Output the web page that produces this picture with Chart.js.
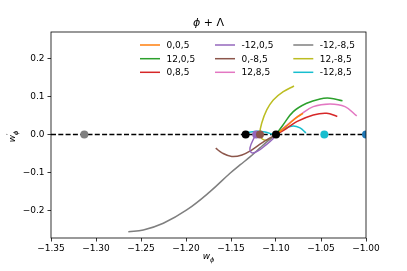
<!DOCTYPE html>
<html><head><meta charset="utf-8">
<script src="https://cdn.jsdelivr.net/npm/chart.js@4/dist/chart.umd.min.js"></script>
<style>html,body{margin:0;padding:0;background:#fff}#wrap{width:407px;height:271px}</style>
</head><body><div id="wrap"><canvas id="c" width="407" height="271"></canvas></div>
<script>
// ---- data ----
const labels = ["0,0,5","12,0,5","0,8,5","-12,0,5","0,-8,5","12,8,5","-12,-8,5","12,-8,5","-12,8,5"];
const orangeX = [-1.100,-1.0867,-1.0778,-1.070];
const orangeY = [0,0.0255,0.044,0.0558];
const greenX = [-1.100,-1.0922,-1.0808,-1.0659,-1.0511,-1.040,-1.0261];
const greenY = [0,0.0255,0.0605,0.0826,0.094,0.0958,0.0892];
const redX = [-1.100,-1.0889,-1.077,-1.0586,-1.0437,-1.0319];
const redY = [0,0.015,0.0342,0.0518,0.0563,0.0479];
const purpleX = [-1.100,-1.1033,-1.1111,-1.120,-1.1267,-1.1289,-1.1233];
const purpleY = [0,-0.011,-0.027,-0.043,-0.048,-0.035,-0.003];
const brownX = [-1.100,-1.1067,-1.1156,-1.1267,-1.1378,-1.1492,-1.160,-1.167];
const brownY = [0,-0.0087,-0.0218,-0.040,-0.0534,-0.0574,-0.048,-0.0358];
const pinkX = [-1.100,-1.0889,-1.0733,-1.0586,-1.040,-1.0233,-1.0103];
const pinkY = [0,0.023,0.0518,0.0737,0.0808,0.0737,0.0492];
const grayX = [-1.100,-1.1089,-1.1178,-1.1289,-1.140,-1.1511,-1.1733,-1.1992,-1.2252,-1.2474,-1.2641];
const grayY = [0,-0.0166,-0.035,-0.0587,-0.0797,-0.1016,-0.150,-0.1982,-0.2332,-0.2508,-0.2553];
const oliveX = [-1.100,-1.1089,-1.1156,-1.1178,-1.1159,-1.1103,-1.103,-1.0919,-1.080];
const oliveY = [0,-0.014,-0.011,0.0045,0.030,0.065,0.0913,0.113,0.128];
const cyanX = [-1.1333,-1.1233,-1.1122,-1.100,-1.0911,-1.0811,-1.0733,-1.0667];
const cyanY = [0.0045,0.0084,0.007,0,0.015,0.0229,0.0176,0.0045];
const dotX = [-1.313,-1.1337,-1.122,-1.1178,-1.100,-1.0463,-1.000];
const dotY = [0,0,0,0,0,0,0];
const xTicks = [-1.35,-1.30,-1.25,-1.20,-1.15,-1.10,-1.05,-1.00];
const yTicks = [-0.2,-0.1,0.0,0.1,0.2];
const xRange = [-1.35,-1.00];
const yRange = [-0.272,0.27];

// ---- styles ----
const seriesColors = ["#ff7f0e","#2ca02c","#d62728","#9467bd","#8c564b","#e377c2","#7f7f7f","#bcbd22","#17becf"];
const dotColors = ["#7f7f7f","#000000","#9467bd","#8c564b","#000000","#17becf","#1f77b4"];
const seriesXY = [[orangeX,orangeY],[greenX,greenY],[redX,redY],[purpleX,purpleY],[brownX,brownY],[pinkX,pinkY],[grayX,grayY],[oliveX,oliveY],[cyanX,cyanY]];
const zip = (xs,ys)=>xs.map((x,i)=>({x:x,y:ys[i]}));
const FONT = "'DejaVu Sans', sans-serif";

const datasets = [];
datasets.push({label:"dots", data:zip(dotX,dotY), showLine:false, pointRadius:4, pointHoverRadius:4,
  pointBackgroundColor:dotColors, pointBorderColor:dotColors, pointBorderWidth:0, clip:0});
seriesXY.forEach((s,i)=>{
  datasets.push({label:labels[i], data:zip(s[0],s[1]), showLine:true, borderColor:seriesColors[i],
    backgroundColor:seriesColors[i], borderWidth:1.5, pointRadius:0, tension:0.4, fill:false});
});
datasets.push({label:"zero", data:[{x:xRange[0],y:0},{x:xRange[1],y:0}], showLine:true, borderColor:"#000",
  borderWidth:1.5, borderDash:[5,2.3], pointRadius:0, fill:false});

const extras = {
  id:'extras',
  afterDraw(chart){
    const ctx = chart.ctx, a = chart.chartArea;
    ctx.save();
    // frame
    ctx.strokeStyle = "#000"; ctx.lineWidth = 0.8;
    ctx.strokeRect(a.left, a.top, a.right-a.left, a.bottom-a.top);
    // title
    const cx = (a.left+a.right)/2;
    ctx.fillStyle = "#000"; ctx.textBaseline = "alphabetic";
    ctx.font = "italic 11px " + FONT;
    const t1 = "\u03D5", t2 = " + \u039B";
    ctx.font = "italic 11px " + FONT; const w1 = ctx.measureText(t1).width;
    ctx.font = "11px " + FONT; const w2 = ctx.measureText(t2).width;
    let sx = cx - (w1+w2)/2;
    ctx.textAlign = "left";
    ctx.font = "italic 11px " + FONT; ctx.fillText(t1, sx, 26);
    ctx.font = "11px " + FONT; ctx.fillText(t2, sx+w1, 26);
    // x label w_phi
    ctx.font = "italic 9px " + FONT;
    const ww = ctx.measureText("w").width;
    ctx.font = "italic 6.5px " + FONT;
    const ws = ctx.measureText("\u03D5").width;
    let lx = cx - (ww+ws)/2;
    ctx.font = "italic 9px " + FONT; ctx.fillText("w", lx, 259);
    ctx.font = "italic 6.5px " + FONT; ctx.fillText("\u03D5", lx+ww, 262);
    // y label w'_phi rotated
    ctx.translate(15, (a.top+a.bottom)/2);
    ctx.rotate(-Math.PI/2);
    ctx.font = "italic 9px " + FONT;
    const yw = ww + 3;
    const yl = -(yw+ws)/2;
    ctx.fillText("w", yl, 0);
    ctx.font = "6.5px " + FONT; ctx.fillText("\u2032", yl+ww, -4);
    ctx.font = "italic 6.5px " + FONT; ctx.fillText("\u03D5", yl+ww, 3);
    ctx.restore();
    // legend
    ctx.save();
    const colX = [140, 215, 293.3], rowY = [45, 58.7, 72.3];
    ctx.font = "9px " + FONT; ctx.textBaseline = "middle"; ctx.textAlign = "left";
    labels.forEach((lab,i)=>{
      const c = Math.floor(i/3), r = i%3;
      const x0 = colX[c], y0 = rowY[r];
      ctx.strokeStyle = seriesColors[i]; ctx.lineWidth = 1.5;
      ctx.beginPath(); ctx.moveTo(x0, y0); ctx.lineTo(x0+20, y0); ctx.stroke();
      ctx.fillStyle = "#000"; ctx.fillText(lab, x0+26.5, y0+0.5);
    });
    ctx.restore();
  }
};

const fmt = (v,d)=>{const s=Math.abs(v).toFixed(d); return (v< -1e-9 ? "\u2212" : "") + s;};

new Chart(document.getElementById('c'), {
  type:'scatter',
  data:{datasets:datasets},
  options:{
    responsive:false, animation:false, devicePixelRatio:1,
    layout:{padding:{left:0, right:41, top:32, bottom:0}},
    plugins:{legend:{display:false}, tooltip:{enabled:false}, title:{display:false}},
    scales:{
      x:{type:'linear', min:xRange[0], max:xRange[1],
        afterBuildTicks(s){ s.ticks = xTicks.map(v=>({value:v})); },
        afterFit(s){ s.height = 33; },
        ticks:{color:"#000", font:{family:FONT, size:9}, padding:2, maxRotation:0, autoSkip:false,
          callback:(v)=>fmt(v,2)},
        grid:{display:true, drawOnChartArea:false, drawTicks:true, tickLength:3.5, tickColor:"#000", tickWidth:0.8},
        border:{display:false}
      },
      y:{type:'linear', min:yRange[0], max:yRange[1],
        afterBuildTicks(s){ s.ticks = yTicks.map(v=>({value:v})); },
        afterFit(s){ s.width = 51; },
        ticks:{color:"#000", font:{family:FONT, size:9}, padding:3, autoSkip:false,
          callback:(v)=>fmt(v,1)},
        grid:{display:true, drawOnChartArea:false, drawTicks:true, tickLength:3.5, tickColor:"#000", tickWidth:0.8},
        border:{display:false}
      }
    }
  },
  plugins:[extras]
});
</script></body></html>
